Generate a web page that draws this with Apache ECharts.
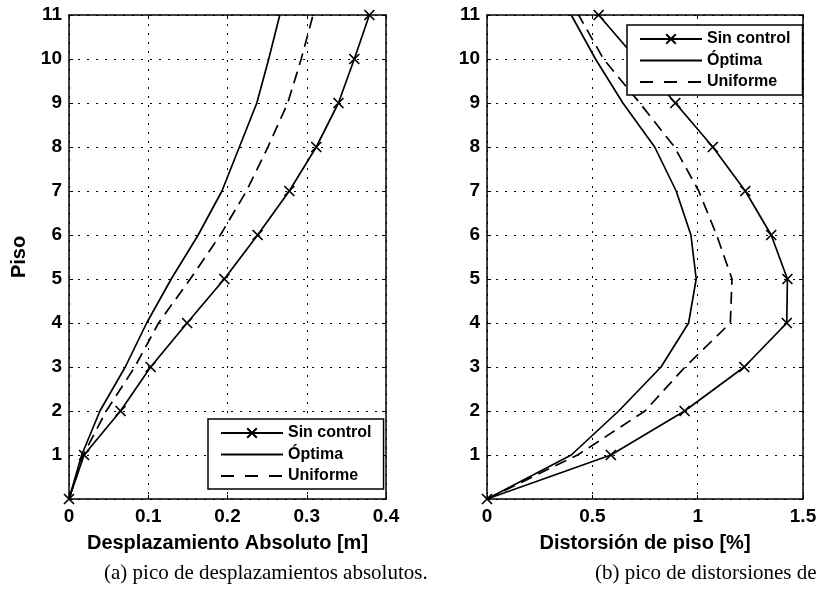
<!DOCTYPE html>
<html>
<head>
<meta charset="utf-8">
<script src="https://cdn.jsdelivr.net/npm/echarts@6/dist/echarts.min.js"></script>
<style>
  html, body { margin: 0; padding: 0; background: #fff; }
  #chart { width: 821px; height: 590px; }
</style>
</head>
<body>
<div id="chart"></div>
<script>
// Floor numbers (vertical axis of both panels)
const floors = [0, 1, 2, 3, 4, 5, 6, 7, 8, 9, 10, 11];

// (a) Peak absolute displacement per floor [m]
const despSinControl = [0, 0.019, 0.065, 0.103, 0.149, 0.196, 0.238, 0.278, 0.312, 0.340, 0.360, 0.379];
const despOptima     = [0, 0.016, 0.039, 0.071, 0.098, 0.129, 0.163, 0.193, 0.215, 0.237, 0.252, 0.266];
const despUniforme   = [0, 0.018, 0.047, 0.083, 0.113, 0.153, 0.191, 0.224, 0.251, 0.276, 0.293, 0.308];

// (b) Peak inter-storey drift per floor [%]
const distSinControl = [0, 0.588, 0.938, 1.221, 1.423, 1.426, 1.349, 1.226, 1.072, 0.894, 0.710, 0.530];
const distOptima     = [0, 0.400, 0.625, 0.826, 0.957, 0.993, 0.968, 0.898, 0.796, 0.645, 0.515, 0.400];
const distUniforme   = [0, 0.430, 0.750, 0.940, 1.155, 1.163, 1.090, 1.005, 0.890, 0.725, 0.553, 0.435];

const seriesNames = ['Sin control', 'Óptima', 'Uniforme'];

// Axis ticks
const despTicks = [0, 0.1, 0.2, 0.3, 0.4];
const distTicks = [0, 0.5, 1, 1.5];

// Caption texts
const captionA = '(a) pico de desplazamientos absolutos.';
const captionB = '(b) pico de distorsiones de piso.';

const SANS = '"Liberation Sans", Arial, sans-serif';
const SERIF = '"Liberation Serif", "Times New Roman", serif';
const X_MARK = 'path://M0,0L10,10M10,0L0,10';
const LINE_W = 1.7;

const tickFont = { fontFamily: SANS, fontWeight: 'bold', fontSize: 19, color: '#000' };
const titleFont = { fontFamily: SANS, fontWeight: 'bold', fontSize: 20, color: '#000' };
const gridLine = { show: true, lineStyle: { color: '#000', width: 1, type: [2, 7] } };
const frameLine = { show: true, onZero: false, lineStyle: { color: '#000', width: 1.5 } };
const innerTick = { show: true, inside: true, length: 4, lineStyle: { color: '#000', width: 1 } };
const hiddenMark = { color: 'rgba(0,0,0,0)', borderWidth: 0 };

function pairs(xs) {
  return floors.map((f, i) => [xs[i], f]);
}

function panelSeries(values, axisIdx) {
  const [sc, op, un] = values;
  return [
    {
      name: seriesNames[0], type: 'line', xAxisIndex: axisIdx, yAxisIndex: axisIdx,
      data: pairs(sc), symbol: X_MARK, symbolSize: 10, showAllSymbol: true,
      lineStyle: { color: '#000', width: LINE_W },
      itemStyle: { color: 'rgba(0,0,0,0)', borderColor: '#000', borderWidth: 1.7 }
    },
    {
      name: seriesNames[1], type: 'line', xAxisIndex: axisIdx, yAxisIndex: axisIdx,
      data: pairs(op), symbol: 'none',
      lineStyle: { color: '#000', width: LINE_W }, itemStyle: hiddenMark
    },
    {
      name: seriesNames[2], type: 'line', xAxisIndex: axisIdx, yAxisIndex: axisIdx,
      data: pairs(un), symbol: 'none',
      lineStyle: { color: '#000', width: LINE_W, type: [12, 7] }, itemStyle: hiddenMark
    }
  ];
}

function xAxes(gridIndex, ticks, name) {
  const min = ticks[0], max = ticks[ticks.length - 1], interval = ticks[1] - ticks[0];
  return [
    {
      type: 'value', gridIndex, position: 'bottom', min, max, interval,
      name, nameLocation: 'middle', nameGap: 34, nameTextStyle: titleFont,
      axisLine: frameLine, axisTick: innerTick, splitLine: gridLine,
      axisLabel: Object.assign({ margin: 8 }, tickFont)
    },
    {
      type: 'value', gridIndex, position: 'top', min, max, interval,
      axisLine: frameLine, axisTick: innerTick, splitLine: { show: false },
      axisLabel: { show: false }
    }
  ];
}

function yAxes(gridIndex, name) {
  return [
    {
      type: 'value', gridIndex, position: 'left', min: 0, max: 11, interval: 1,
      name, nameLocation: 'middle', nameGap: 40, nameTextStyle: titleFont,
      axisLine: frameLine, axisTick: innerTick, splitLine: gridLine,
      axisLabel: Object.assign({ margin: 7, formatter: v => (v === 0 ? '' : String(v)) }, tickFont)
    },
    {
      type: 'value', gridIndex, position: 'right', min: 0, max: 11, interval: 1,
      axisLine: frameLine, axisTick: innerTick, splitLine: { show: false },
      axisLabel: { show: false }
    }
  ];
}

function legendAt(left, top) {
  return {
    left, top, orient: 'vertical', selectedMode: false,
    data: [
      { name: seriesNames[0] },
      { name: seriesNames[1], itemStyle: hiddenMark },
      { name: seriesNames[2], itemStyle: hiddenMark, lineStyle: { type: [13, 11] } }
    ],
    padding: [6, 12, 5, 12], itemWidth: 62, itemHeight: 12, itemGap: 5.5,
    borderColor: '#000', borderWidth: 1.5, backgroundColor: '#fff',
    textStyle: { fontFamily: SANS, fontWeight: 'bold', fontSize: 16, lineHeight: 16, color: '#000' }
  };
}

const chart = echarts.init(document.getElementById('chart'), null, { renderer: 'canvas' });

const xa = xAxes(0, despTicks, 'Desplazamiento Absoluto [m]');
const xb = xAxes(1, distTicks, 'Distorsión de piso [%]');
const ya = yAxes(0, 'Piso');
const yb = yAxes(1, '');

// Axis index layout: 0 = left bottom/left, 1 = left top/right, 2 = right bottom/left, 3 = right top/right
chart.setOption({
  animation: false,
  backgroundColor: '#fff',
  grid: [
    { left: 69, top: 15, width: 317, height: 484 },
    { left: 487, top: 15, width: 316, height: 484 }
  ],
  xAxis: [xa[0], xa[1], xb[0], xb[1]],
  yAxis: [ya[0], ya[1], yb[0], yb[1]],
  legend: [legendAt(208, 419), legendAt(627, 25)],
  series: [
    ...panelSeries([despSinControl, despOptima, despUniforme], 0),
    ...panelSeries([distSinControl, distOptima, distUniforme], 2)
  ],
  graphic: [
    { type: 'text', left: 104, top: 563, style: { text: captionA, font: '21px ' + SERIF, fill: '#000' } },
    { type: 'text', left: 595, top: 563, style: { text: captionB, font: '21px ' + SERIF, fill: '#000' } }
  ]
});
</script>
</body>
</html>
